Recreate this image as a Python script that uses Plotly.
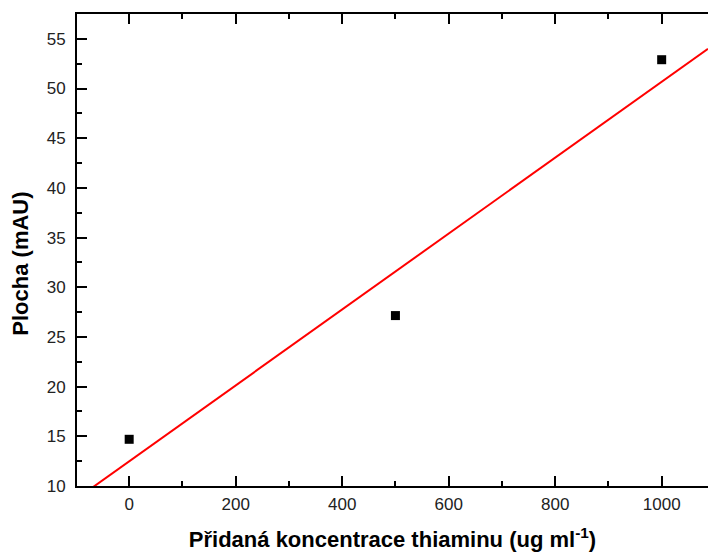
import numpy as np
import plotly.graph_objects as go

conc = [0, 500, 1000]
area = [14.7, 27.15, 52.9]
x_range = [-98, 1087]
y_range = [10, 57.5]

slope, intercept = np.polyfit(conc, area, 1)
fit_x = np.array(x_range)
fit_y = slope * fit_x + intercept

fig = go.Figure()
fig.add_trace(go.Scatter(x=fit_x, y=fit_y, mode="lines",
                         line=dict(color="#ff0000", width=2), showlegend=False))
fig.add_trace(go.Scatter(x=conc, y=area, mode="markers",
                         marker=dict(symbol="square", size=9, color="black"),
                         showlegend=False))

axis_common = dict(showgrid=False, zeroline=False, showline=True, linecolor="black",
                   linewidth=2, ticks="inside", ticklen=10, tickwidth=2, tickcolor="black",
                   tickfont=dict(family="Liberation Sans, Arial", size=17, color="#222222"))
fig.update_xaxes(range=x_range, dtick=200, tick0=0, mirror="ticks", ticklabelstandoff=2,
                 minor=dict(ticks="inside", dtick=100, tick0=0, ticklen=5, tickwidth=2, tickcolor="black"),
                 title=dict(text="<b>Přidaná koncentrace thiaminu (ug ml<sup>-1</sup>)</b>",
                            font=dict(family="Liberation Sans, Arial", size=22, color="black"),
                            standoff=18),
                 **axis_common)
fig.update_yaxes(range=y_range, dtick=5, tick0=10, ticklabelstandoff=6,
                 minor=dict(ticks="inside", dtick=2.5, tick0=10, ticklen=5, tickwidth=2, tickcolor="black"),
                 **axis_common)
fig.add_annotation(text="<b>Plocha (mAU)</b>", textangle=-90, showarrow=False,
                   xref="paper", yref="paper", x=-0.0895, y=0.47, xanchor="center", yanchor="middle",
                   font=dict(family="Liberation Sans, Arial", size=22, color="black"))
fig.update_layout(width=708, height=558, margin=dict(l=77, r=0, t=14, b=72),
                  plot_bgcolor="white", paper_bgcolor="white")
fig.write_html("out.html")
